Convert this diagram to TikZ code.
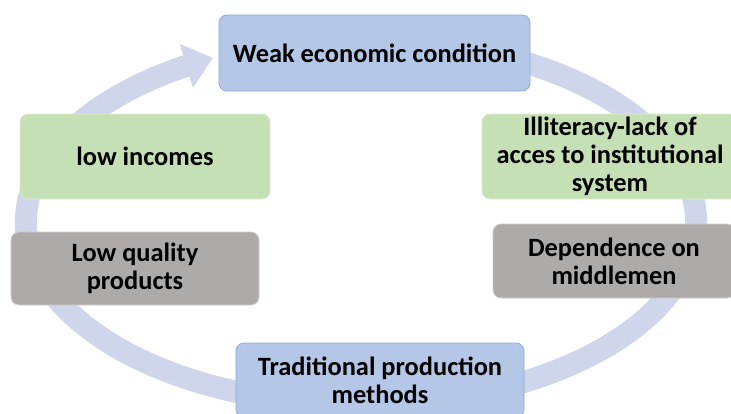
\documentclass[tikz,border=0pt]{standalone}
\usepackage{fontspec}
\setmainfont{Carlito}
\usetikzlibrary{arrows.meta,bending}
\definecolor{boxblue}{HTML}{B4C7E7}
\definecolor{boxblueline}{HTML}{8FAADC}
\definecolor{boxgreen}{HTML}{C5E0B4}
\definecolor{boxgray}{HTML}{AEAAAA}
\definecolor{ringcol}{HTML}{CFD5EA}
\begin{document}
\begin{tikzpicture}[x=1pt,y=-1pt,
  box/.style={rounded corners=8pt, align=center, line width=0.8pt, inner sep=0pt,
    font=\fontsize{26.4}{28}\selectfont\bfseries, text=black},
  bluebox/.style={box, fill=boxblue, draw=boxblueline},
  greenbox/.style={box, fill=boxgreen, draw=boxgreen!60!white},
  graybox/.style={box, fill=boxgray, draw=boxgray!60!white},
  ring/.style={draw=ringcol, line width=22pt, -{Triangle[length=28pt,width=44pt]}}
]
\useasboundingbox (0,0) rectangle (731,413);
\clip (0,0) rectangle (731,413);
\fill[white] (0,0) rectangle (731,413);
\draw[ring] (361,222) ++(-70:335 and 183) arc[start angle=-70, end angle=243.8, x radius=335, y radius=183];
\node[bluebox, minimum width=311pt, minimum height=76pt] (weak) at (374.5,53) {Weak economic condition};
\node[greenbox, minimum width=250pt, minimum height=85pt] (inc) at (145,156.5) {low incomes};
\node[greenbox, minimum width=256pt, minimum height=85pt] (illit) at (610,156.5) {Illiteracy-lack of\\acces to institutional\\system};
\node[graybox, minimum width=248pt, minimum height=73pt] (qual) at (135,268.5) {Low quality\\products};
\node[graybox, minimum width=242pt, minimum height=74pt] (dep) at (614,261) {Dependence on\\middlemen};
\node[bluebox, minimum width=288pt, minimum height=74pt] (trad) at (380,380) {Traditional production\\methods};
\end{tikzpicture}
\end{document}
